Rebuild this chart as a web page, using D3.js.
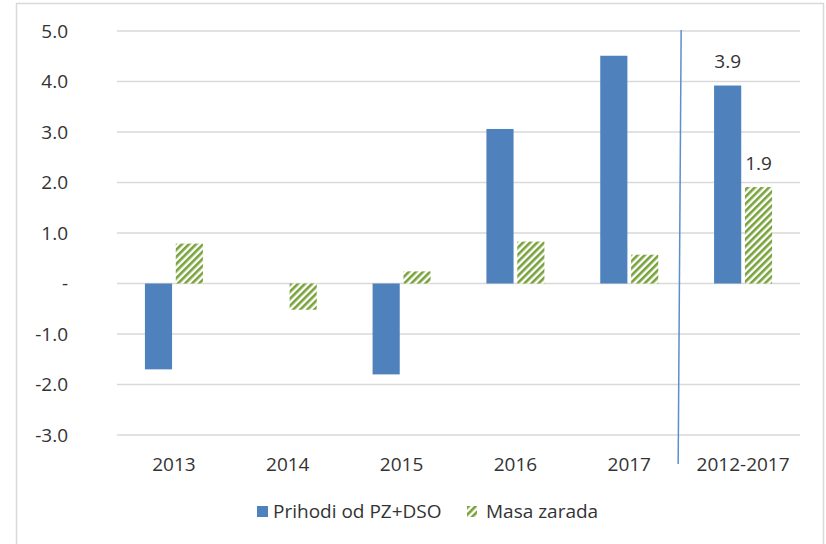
<!DOCTYPE html>
<html>
<head>
<meta charset="utf-8">
<script src="https://cdn.jsdelivr.net/npm/d3@7"></script>
<style>
  body { margin: 0; background: #fff; }
  text { font-family: "Open Sans", sans-serif; fill: #333; }
</style>
</head>
<body>
<svg width="826" height="544"></svg>
<script>
// chart data
var years = ["2013", "2014", "2015", "2016", "2017", "2012-2017"];
var prihodi = [-1.7, 0, -1.8, 3.06, 4.51, 3.92];
var masaZarada = [0.79, -0.52, 0.24, 0.83, 0.57, 1.91];
var seriesNames = ["Prihodi od PZ+DSO", "Masa zarada"];
var yTicks = [-3, -2, -1, 0, 1, 2, 3, 4, 5];

var svg = d3.select("svg");
var fmt = function(d) { return d.toFixed(1); };

// outer frame
svg.append("rect")
   .attr("x", 16.5).attr("y", 3.5)
   .attr("width", 807).attr("height", 560)
   .attr("fill", "none").attr("stroke", "#d9d9d9").attr("stroke-width", 1.5);

var x = d3.scaleBand().domain(years).range([117, 800]);
var xInner = d3.scaleBand().domain(seriesNames).range([0, 58]).paddingInner(0.12);
var y = d3.scaleLinear().domain([-3, 5]).range([435, 31]);

var defs = svg.append("defs");
var pat = defs.append("pattern")
   .attr("id", "hatch")
   .attr("patternUnits", "userSpaceOnUse")
   .attr("width", 5).attr("height", 5)
   .attr("patternTransform", "rotate(45)");
pat.append("rect").attr("width", 5).attr("height", 5).attr("fill", "#fff");
pat.append("rect").attr("width", 2.6).attr("height", 5).attr("fill", "#78a33a");

// gridlines
svg.append("g")
   .selectAll("line")
   .data(yTicks)
   .enter().append("line")
   .attr("x1", 117).attr("x2", 800)
   .attr("y1", function(d) { return y(d); })
   .attr("y2", function(d) { return y(d); })
   .attr("stroke", "#d9d9d9").attr("stroke-width", 1.5);

// y labels
svg.append("g")
   .selectAll("text")
   .data(yTicks)
   .enter().append("text")
   .attr("x", 68)
   .attr("y", function(d) { return y(d); })
   .attr("dy", "0.35em")
   .attr("text-anchor", "end")
   .style("font-size", "19px")
   .text(function(d) { return d === 0 ? "-" : fmt(d); });

// x labels
svg.append("g")
   .selectAll("text")
   .data(years)
   .enter().append("text")
   .attr("x", function(d) { return x(d) + x.bandwidth() / 2; })
   .attr("y", 464)
   .attr("dy", "0.35em")
   .attr("text-anchor", "middle")
   .style("font-size", "19px")
   .text(function(d) { return d; });

var groupOff = (x.bandwidth() - 58) / 2;

function drawBars(values, name, fill) {
  svg.append("g")
     .selectAll("rect")
     .data(values)
     .enter().append("rect")
     .attr("x", function(d, i) { return x(years[i]) + groupOff + xInner(name); })
     .attr("width", xInner.bandwidth())
     .attr("y", function(d) { return y(Math.max(0, d)); })
     .attr("height", function(d) { return Math.abs(y(d) - y(0)); })
     .attr("fill", fill);
}
drawBars(prihodi, seriesNames[0], "#4f81bd");
drawBars(masaZarada, seriesNames[1], "url(#hatch)");

// value labels for the summary period
var last = years.length - 1;
svg.append("text")
   .attr("x", x(years[last]) + groupOff + xInner(seriesNames[0]) + xInner.bandwidth() / 2)
   .attr("y", y(prihodi[last]) - 24)
   .attr("dy", "0.35em")
   .attr("text-anchor", "middle")
   .style("font-size", "19px")
   .text(fmt(prihodi[last]));
svg.append("text")
   .attr("x", x(years[last]) + groupOff + xInner(seriesNames[1]) + xInner.bandwidth() / 2)
   .attr("y", y(masaZarada[last]) - 24)
   .attr("dy", "0.35em")
   .attr("text-anchor", "middle")
   .style("font-size", "19px")
   .text(fmt(masaZarada[last]));

// separator line between yearly and cumulative
svg.append("line")
   .attr("x1", x(years[last]) - 5).attr("y1", 30)
   .attr("x2", x(years[last]) - 8).attr("y2", 464)
   .attr("stroke", "#5b8fd0").attr("stroke-width", 1.5);

// legend
var legend = svg.append("g").attr("transform", "translate(257,511)");
legend.append("rect").attr("x", 0).attr("y", -5).attr("width", 11).attr("height", 11).attr("fill", "#4f81bd");
legend.append("text").attr("x", 16).attr("y", 0).attr("dy", "0.35em").style("font-size", "19px").text(seriesNames[0]);
legend.append("rect").attr("x", 210).attr("y", -5).attr("width", 10).attr("height", 11).attr("fill", "url(#hatch)");
legend.append("text").attr("x", 229).attr("y", 0).attr("dy", "0.35em").style("font-size", "19px").text(seriesNames[1]);
</script>
</body>
</html>
